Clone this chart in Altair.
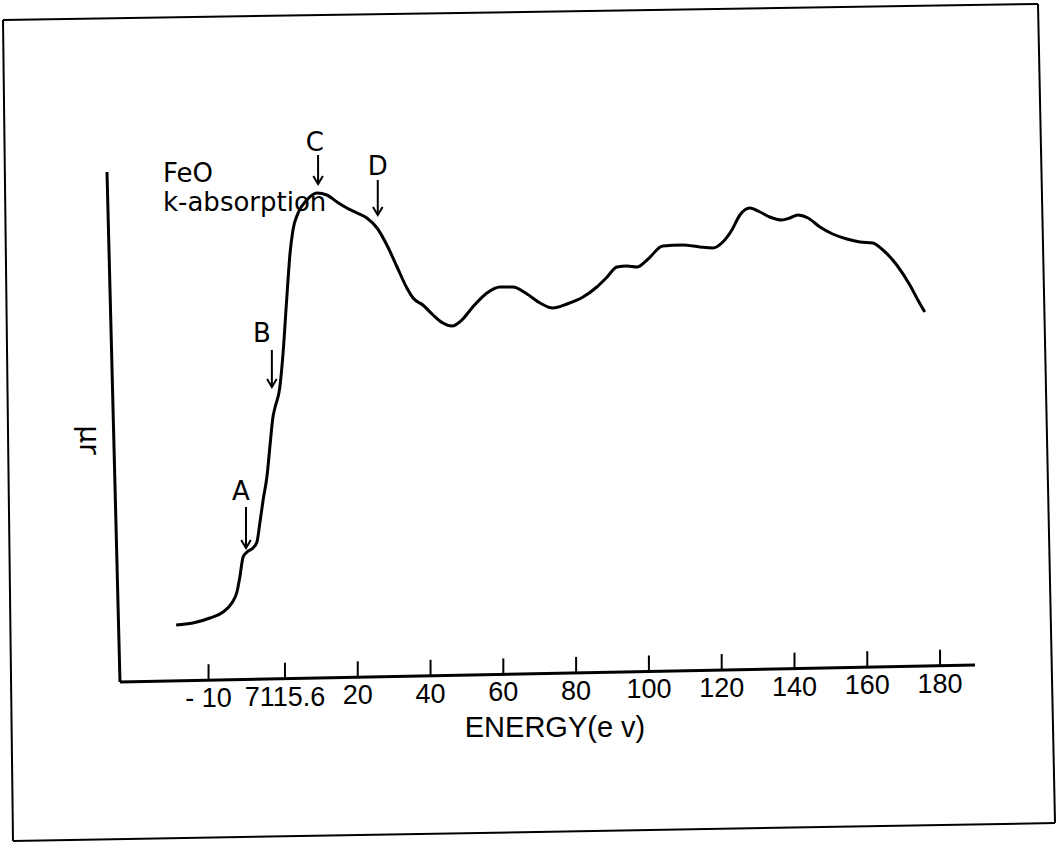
import altair as alt
import pandas as pd

# ---- data (relative energy in eV, absorption in arbitrary units) ----
energy = [-29.9, -25.3, -20.6, -17.0, -14.6, -13.2, -12.4, -11.5, -10.4, -8.8,
          -7.7, -6.9, -6.0, -4.9, -4.1, -3.3, -2.7, -1.4, -0.5, 0.5,
          1.4, 2.2, 3.6, 6.0, 8.8, 11.5, 14.3, 17.0, 19.8, 22.5,
          25.3, 28.0, 30.8, 33.5, 35.2, 37.9, 40.7, 43.4, 45.9, 48.6,
          51.6, 55.5, 59.1, 62.6, 66.5, 70.1, 73.6, 77.5, 81.9, 85.7,
          88.5, 91.2, 94.0, 96.7, 99.5, 103.8, 109.3, 114.0, 117.6, 120.3,
          122.8, 125.0, 127.7, 130.5, 133.2, 136.5, 138.7, 140.9, 143.7, 147.0,
          150.5, 154.4, 158.0, 161.5, 164.3, 168.1, 171.7, 173.9, 175.8]
absorption = [0.57, 0.59, 0.64, 0.70, 0.79, 0.90, 1.05, 1.25, 1.30, 1.34,
              1.40, 1.59, 1.82, 2.07, 2.37, 2.65, 2.75, 2.95, 3.30, 3.84,
              4.29, 4.52, 4.69, 4.82, 4.89, 4.87, 4.80, 4.74, 4.69, 4.64,
              4.54, 4.37, 4.15, 3.94, 3.84, 3.77, 3.67, 3.59, 3.56, 3.62,
              3.75, 3.89, 3.95, 3.95, 3.88, 3.79, 3.74, 3.78, 3.85, 3.95,
              4.05, 4.15, 4.16, 4.15, 4.22, 4.36, 4.37, 4.35, 4.34, 4.40,
              4.52, 4.67, 4.74, 4.70, 4.65, 4.62, 4.64, 4.67, 4.64, 4.55,
              4.48, 4.43, 4.40, 4.39, 4.32, 4.17, 3.97, 3.82, 3.70]

tick_values = [-21, 0, 20, 40, 60, 80, 100, 120, 140, 160, 180]
tick_labels = ["- 10", "7115.6", "20", "40", "60", "80", "100", "120", "140", "160", "180"]

ann_labels = ["A", "B", "C", "D"]
ann_label_x = [-12.1, -6.3, 8.2, 25.5]
ann_label_y = [1.90, 3.48, 5.39, 5.15]
arrow_x = [-10.7, -3.6, 9.1, 25.5]
arrow_top = [1.75, 3.32, 5.27, 5.02]
arrow_tip = [1.34, 2.95, 4.98, 4.67]

W, H = 868, 510
FONT = "DejaVu Sans"
LAB = "Liberation Sans, Arial, sans-serif"

xs = alt.Scale(domain=[-48.9, 189.6], nice=False, zero=False)
ys = alt.Scale(domain=[0, 5.1], nice=False, zero=False)

curve_df = pd.DataFrame({"E": energy, "mu": absorption})
ticks_df = pd.DataFrame({"v": tick_values, "label": tick_labels})
ann_df = pd.DataFrame({"label": ann_labels, "lx": ann_label_x, "ly": ann_label_y,
                       "ax": arrow_x, "atop": arrow_top, "atip": arrow_tip})
one = pd.DataFrame({"k": [0]})

curve = alt.Chart(curve_df).mark_line(
    color="black", strokeWidth=3, interpolate="monotone"
).encode(
    x=alt.X("E:Q", scale=xs, axis=None),
    y=alt.Y("mu:Q", scale=ys, axis=None),
)

# tilted (scanned) x axis: tick baseline follows the slant of the drawn axis
tick_base = alt.Chart(ticks_df).transform_calculate(
    base="0.0328 + 0.000724 * datum.v",
    top="0.0328 + 0.000724 * datum.v + 0.16",
    lab="0.0328 + 0.000724 * datum.v - 0.19",
)
ticks = tick_base.mark_rule(color="black", strokeWidth=2).encode(
    x=alt.X("v:Q", scale=xs, axis=None),
    y=alt.Y("base:Q", scale=ys, axis=None),
    y2="top:Q",
)
tick_text = tick_base.mark_text(
    font=LAB, fontSize=27, color="black", baseline="middle", align="center"
).encode(
    x=alt.X("v:Q", scale=xs, axis=None),
    y=alt.Y("lab:Q", scale=ys, axis=None),
    text="label:N",
)

arrows = alt.Chart(ann_df).mark_rule(color="black", strokeWidth=2).encode(
    x=alt.X("ax:Q", scale=xs, axis=None),
    y=alt.Y("atop:Q", scale=ys, axis=None),
    y2="atip:Q",
)
heads = alt.Chart(ann_df).mark_point(
    shape="M-0.6,-1L0,0L0.6,-1", filled=False, stroke="black", strokeWidth=2,
    size=256, opacity=1
).encode(
    x=alt.X("ax:Q", scale=xs, axis=None),
    y=alt.Y("atip:Q", scale=ys, axis=None),
)
ann_text = alt.Chart(ann_df).mark_text(
    font=FONT, fontSize=26, color="black", baseline="middle", align="center"
).encode(
    x=alt.X("lx:Q", scale=xs, axis=None),
    y=alt.Y("ly:Q", scale=ys, axis=None),
    text="label:N",
)

def seg(x1, y1, x2, y2, w=2):
    return alt.Chart(one).mark_rule(color="black", strokeWidth=w).encode(
        x=alt.value(x1), y=alt.value(y1), x2=alt.value(x2), y2=alt.value(y2)
    )

# drawn axis lines (slightly slanted as in the scan)
y_axis_line = seg(0, 0, 13, 510, 3)
x_axis_line = seg(13, 510, 868, 493, 3)

# page border of the scanned figure
frame = [seg(-104, -152, 931, -168), seg(931, -168, 948, 651),
         seg(948, 651, -94, 669), seg(-94, 669, -104, -152)]

def label(txt, x, y, size, angle=0, align="left", baseline="top", font=FONT):
    return alt.Chart(one).mark_text(
        text=txt, font=font, fontSize=size, color="black", align=align,
        baseline=baseline, angle=angle
    ).encode(x=alt.value(x), y=alt.value(y))

feo = label("FeO", 56, -11, 26)
kabs = label("k-absorption", 56, 18, 26)
xtitle = label("ENERGY(e v)", 448, 556, 29, align="center", baseline="middle", font=LAB)
ytitle = label("μr", -19, 268, 28, angle=90, align="center", baseline="middle")

chart = alt.layer(
    *frame, y_axis_line, x_axis_line, ticks, tick_text, curve, arrows, heads,
    ann_text, feo, kabs, xtitle, ytitle
).properties(
    width=W, height=H,
    autosize=alt.AutoSizeParams(type="none"),
    padding={"left": 107, "top": 172, "right": 82, "bottom": 160},
    background="white",
).configure_view(stroke=None)

chart.save("out.html", embed_options={"renderer": "svg", "actions": False})
